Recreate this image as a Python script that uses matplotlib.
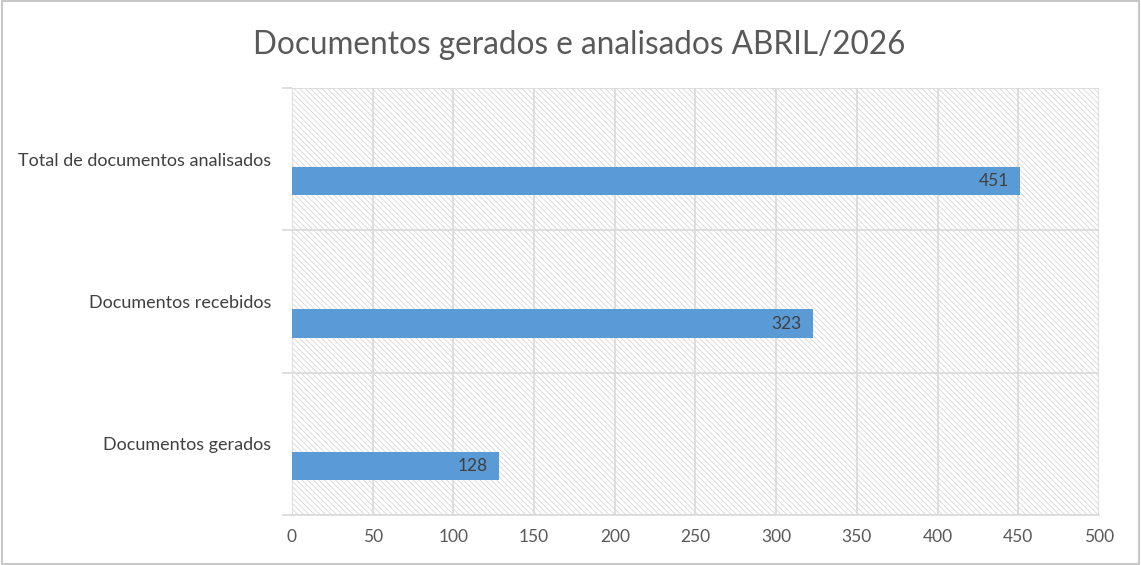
import matplotlib

matplotlib.use("Agg")
import matplotlib.pyplot as plt
from matplotlib.patches import Rectangle

categories = ["Documentos gerados", "Documentos recebidos", "Total de documentos analisados"]
values = [128, 323, 451]
x_ticks = [0, 50, 100, 150, 200, 250, 300, 350, 400, 450, 500]
title = "Documentos gerados e analisados ABRIL/2026"

BAR_COLOR = "#5B9BD5"
GRID_COLOR = "#d9d9d9"
TEXT_COLOR = "#595959"

plt.rcParams["font.family"] = ["Lato", "DejaVu Sans"]
plt.rcParams["hatch.linewidth"] = 0.55
plt.rcParams["hatch.color"] = "#d4d4d4"

fig = plt.figure(figsize=(11.41, 5.65), dpi=100)
ax = fig.add_axes([0.2559, 0.0885, 0.7073, 0.7557])

# hatched plot area background
ax.add_patch(Rectangle((0, 0), 1, 1, transform=ax.transAxes, facecolor="white",
                       edgecolor="#d4d4d4", hatch="\\" * 6, linewidth=0, zorder=0))

positions = [i - 0.155 for i in range(len(categories))]
ax.barh(positions, values, height=0.2, color=BAR_COLOR, zorder=3)
for pos, val in zip(positions, values):
    ax.text(val - 7, pos, str(val), ha="right", va="center", fontsize=12.5,
            color="#404040", zorder=4)

ax.set_xlim(0, 500)
ax.set_ylim(-0.5, len(categories) - 0.5)
ax.set_xticks(x_ticks)
ax.set_xticklabels([str(t) for t in x_ticks], fontsize=12.5, color=TEXT_COLOR)
ax.set_yticks(range(len(categories)))
ax.set_yticklabels(categories, fontsize=13, color="#404040")
ax.set_yticks([i - 0.5 for i in range(len(categories) + 1)], minor=True)
ax.tick_params(axis="y", which="major", length=0, pad=15)
ax.tick_params(axis="y", which="minor", length=7, color=GRID_COLOR, width=1.2)
ax.tick_params(axis="x", length=0, pad=10)

ax.grid(axis="x", color=GRID_COLOR, linewidth=1.2, zorder=2)
ax.grid(axis="y", which="minor", color=GRID_COLOR, linewidth=1.2, zorder=2)
for side in ("top", "right", "left"):
    ax.spines[side].set_visible(False)
ax.spines["bottom"].set_color(GRID_COLOR)
ax.spines["bottom"].set_linewidth(1.2)

fig.text(0.508, 0.921, title, ha="center", va="center", fontsize=22.7, color=TEXT_COLOR)
fig.patches.append(Rectangle((0.002, 0.002), 0.996, 0.996, transform=fig.transFigure,
                             fill=False, edgecolor="#c8c8c8", linewidth=1.5))

fig.savefig("out.png", dpi=100)
